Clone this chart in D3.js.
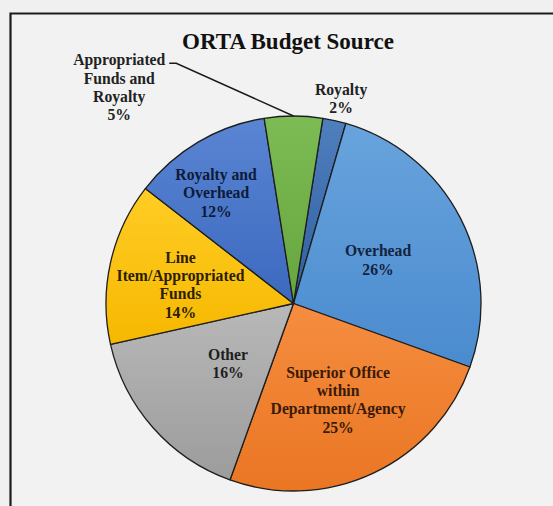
<!DOCTYPE html>
<html>
<head>
<meta charset="utf-8">
<script src="https://cdn.jsdelivr.net/npm/d3@7"></script>
<style>
  html, body { margin: 0; padding: 0; background: #f0f0f0; }
  svg { display: block; }
</style>
</head>
<body>
<svg id="chart" width="553" height="506"></svg>
<script>
// Budget sources, clockwise from the top of the pie
const categories = [
  "Royalty",
  "Overhead",
  "Superior Office within Department/Agency",
  "Other",
  "Line Item/Appropriated Funds",
  "Royalty and Overhead",
  "Appropriated Funds and Royalty"
];
const labelLines = [
  ["Royalty"],
  ["Overhead"],
  ["Superior Office", "within", "Department/Agency"],
  ["Other"],
  ["Line", "Item/Appropriated", "Funds"],
  ["Royalty and", "Overhead"],
  ["Appropriated", "Funds and", "Royalty"]
];
const shares = [2, 26, 25, 16, 14, 12, 5];
const chartTitle = "ORTA Budget Source";

// slice fills (top and bottom of each gradient) and label ink
const fillTop    = ["#4f7fbd", "#68a3dc", "#f58d40", "#b8b8b8", "#ffcd25", "#5a85d3", "#7dbb55"];
const fillBottom = ["#2f5f9f", "#4a8bcf", "#ea7623", "#9c9c9c", "#f6b800", "#3c69bf", "#66a63e"];
const inkColors  = ["#222222", "#14233d", "#3a1a08", "#1e1e1e", "#2a2000", "#0d1b38", "#222222"];

// label placement: [angle offset from slice middle (deg), radius fraction]
const labelPlacement = [[0.5, 1.12], [0, 0.506], [0.4, 0.567], [-1.1, 0.474], [-3.3, 0.611], [-4.4, 0.72], [-38.9, 1.48]];

const W = 553, H = 506;
const cx = 293.5, cy = 303.5, R = 187.5;
const fontSize = 15.7, lineH = 18.4;
const deg = Math.PI / 180;

const svg = d3.select("#chart");

// frame: inner panel with a dark border on its top and left sides
svg.append("rect").attr("x", 10.5).attr("y", 13.5).attr("width", W).attr("height", H)
  .attr("fill", "#f2f2f2");
svg.append("path").attr("d", `M10.5,${H + 2} V13.5 H${W + 2}`)
  .attr("fill", "none").attr("stroke", "#1c1c1c").attr("stroke-width", 2.2);

svg.append("text")
  .attr("x", 288).attr("y", 48.5)
  .attr("text-anchor", "middle")
  .attr("font-family", "'Liberation Serif', 'Times New Roman', serif")
  .attr("font-weight", "bold")
  .attr("font-size", 23)
  .attr("fill", "#111")
  .text(chartTitle);

const defs = svg.append("defs");
shares.forEach((v, i) => {
  const g = defs.append("linearGradient").attr("id", "grad" + i)
    .attr("x1", 0).attr("y1", 0).attr("x2", 0).attr("y2", 1);
  g.append("stop").attr("offset", "0%").attr("stop-color", fillTop[i]);
  g.append("stop").attr("offset", "100%").attr("stop-color", fillBottom[i]);
});

const pie = d3.pie().sort(null).value(d => d)
  .startAngle(9 * deg).endAngle(369 * deg);
const arcs = pie(shares);
const arc = d3.arc().innerRadius(0).outerRadius(R);

const g = svg.append("g").attr("transform", `translate(${cx},${cy})`);

g.selectAll("path.slice").data(arcs).join("path")
  .attr("class", "slice")
  .attr("d", arc)
  .attr("fill", (d, i) => `url(#grad${i})`)
  .attr("stroke", "#1e1e1e")
  .attr("stroke-width", 1.3)
  .attr("stroke-linejoin", "round");

function polar(angle, r) {
  return [Math.sin(angle) * r, -Math.cos(angle) * r];
}

const labelPos = arcs.map((d, i) => {
  const mid = (d.startAngle + d.endAngle) / 2 + labelPlacement[i][0] * deg;
  return polar(mid, labelPlacement[i][1] * R);
});

// leader line for the small outside label of the last slice
{
  const last = arcs.length - 1;
  const d = arcs[last];
  const mid = (d.startAngle + d.endAngle) / 2;
  const end = polar(mid, R);
  const lp = labelPos[last];
  const startY = lp[1] - 1.5 * lineH + lineH * 0.18;
  const sx = lp[0] + 50;
  g.append("path")
    .attr("d", `M${sx},${startY} H${sx + 7} L${end[0]},${end[1]}`)
    .attr("fill", "none").attr("stroke", "#1a1a1a").attr("stroke-width", 1.4);
}

arcs.forEach((d, i) => {
  const lines = labelLines[i].concat([shares[i] + "%"]);
  const [lx, ly] = labelPos[i];
  const t = g.append("text")
    .attr("text-anchor", "middle")
    .attr("font-family", "'Liberation Serif', 'Times New Roman', serif")
    .attr("font-weight", "bold")
    .attr("font-size", fontSize)
    .attr("fill", inkColors[i]);
  lines.forEach((ln, k) => {
    t.append("tspan")
      .attr("x", lx)
      .attr("y", ly + (k - (lines.length - 1) / 2) * lineH + fontSize * 0.33)
      .text(ln);
  });
});
</script>
</body>
</html>
